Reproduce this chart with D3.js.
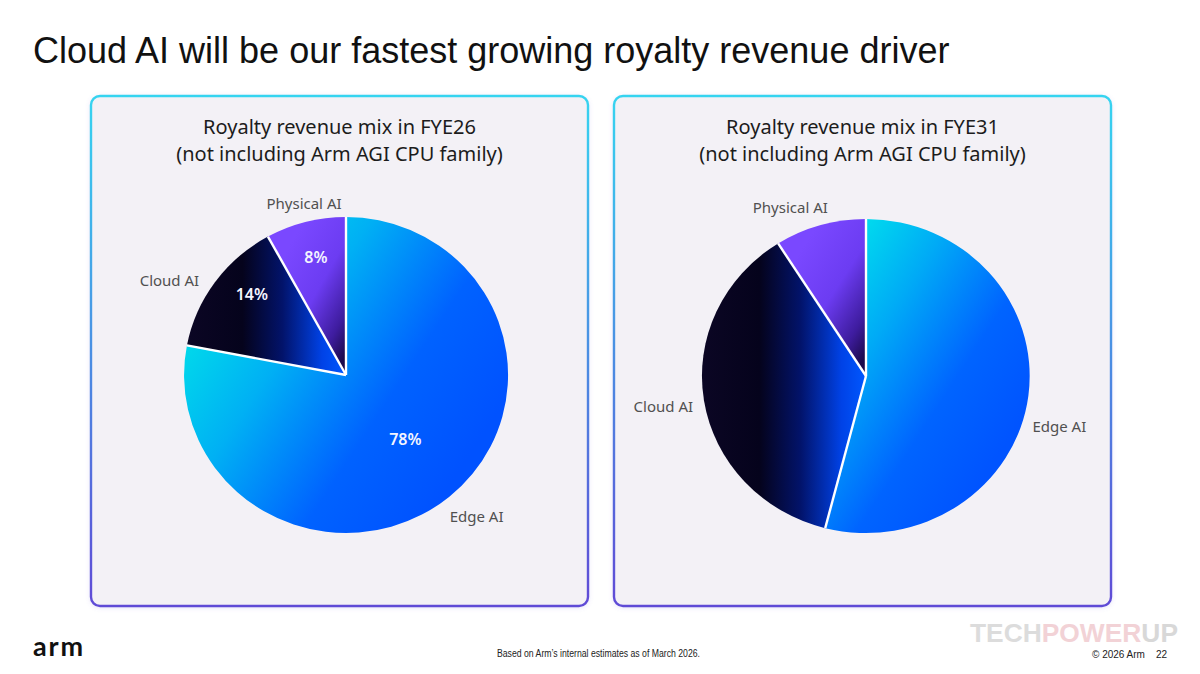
<!DOCTYPE html>
<html>
<head>
<meta charset="utf-8">
<script src="https://cdn.jsdelivr.net/npm/d3@7"></script>
<style>
  html, body { margin: 0; padding: 0; background: #ffffff; }
  svg { display: block; }
</style>
</head>
<body>
<div id="chart"></div>
<script>
// Chart data
const categories = ["Edge AI", "Cloud AI", "Physical AI"];
const fye26Values = [78, 14, 8];
const fye31Values = [54, 37, 9];
const fye26Labels = ["78%", "14%", "8%"];
const panelTitles = [
  ["Royalty revenue mix in FYE26", "(not including Arm AGI CPU family)"],
  ["Royalty revenue mix in FYE31", "(not including Arm AGI CPU family)"]
];
const slideTitle = "Cloud AI will be our fastest growing royalty revenue driver";
const footnote = "Based on Arm\u2019s internal estimates as of March 2026.";

const W = 1200, H = 674;
const svg = d3.select("#chart").append("svg")
  .attr("width", W).attr("height", H);

const defs = svg.append("defs");

// panel border gradient (cyan top -> purple bottom)
const bg = defs.append("linearGradient").attr("id", "panelBorder")
  .attr("x1", 0).attr("y1", 0).attr("x2", 0).attr("y2", 1);
bg.append("stop").attr("offset", 0).attr("stop-color", "#36d4f0");
bg.append("stop").attr("offset", 1).attr("stop-color", "#5f4bd6");

const shadow = defs.append("filter").attr("id", "soft")
  .attr("x", -0.05).attr("y", -0.05).attr("width", 1.1).attr("height", 1.1);
shadow.append("feDropShadow").attr("dx", 0).attr("dy", 1).attr("stdDeviation", 2)
  .attr("flood-color", "#7a6be0").attr("flood-opacity", 0.18);

// slice gradients, one set per pie
function gradient(id, x1, y1, x2, y2, stops) {
  const g = defs.append("linearGradient").attr("id", id)
    .attr("x1", x1).attr("y1", y1).attr("x2", x2).attr("y2", y2);
  stops.forEach(s => g.append("stop").attr("offset", s[0]).attr("stop-color", s[1]));
}
const cloudStops = [[0, "#0b0624"], [0.35, "#05031c"], [0.6, "#02136a"], [0.85, "#0042e6"], [1, "#0058ff"]];
const physStops = [[0, "#7a48ff"], [0.45, "#6c3cf2"], [0.8, "#3e1c9e"], [1, "#1c0a4c"]];
gradient("edge0", 0, 0.25, 0.85, 0.8, [[0, "#00e6e8"], [0.35, "#00b0f4"], [0.7, "#0062ff"], [1, "#0052ff"]]);
gradient("cloud0", 0, 0, 1, 0, cloudStops);
gradient("phys0", 0.2, 0.25, 0.85, 1, physStops);
gradient("edge1", 0.1, 0, 0.85, 0.75, [[0, "#00e6ec"], [0.35, "#00aaf6"], [0.7, "#0064ff"], [1, "#0054ff"]]);
gradient("cloud1", 0, 0, 1, 0, cloudStops);
gradient("phys1", 0.2, 0.25, 0.85, 1, physStops);

// Slide title
svg.append("text")
  .attr("x", 33).attr("y", 63)
  .attr("font-family", "Liberation Sans, Arial, sans-serif")
  .attr("font-size", 36)
  .attr("fill", "#111")
  .text(slideTitle);

// panels
const panels = [
  { x: 91, y: 96, w: 497, h: 510, cx: 346, cy: 375, rx: 162, ry: 158,
    values: fye26Values, pct: fye26Labels, gid: 0,
    labelPos: { "Physical AI": [-13.8, 176], "Cloud AI": [-62, 200], "Edge AI": [137.4, 193] },
    pctPos: [[137, 87], [-49.4, 124], [-14.3, 122]] },
  { x: 614, y: 96, w: 497, h: 510, cx: 866, cy: 376, rx: 164, ry: 157,
    values: fye31Values, pct: null, gid: 1,
    labelPos: { "Physical AI": [-24.3, 184], "Cloud AI": [-98.7, 205], "Edge AI": [104.8, 200] },
    pctPos: null }
];

const pie = d3.pie().sort(null).value(d => d);
const arc = d3.arc().innerRadius(0).outerRadius(1);
const gradIds = ["edge", "cloud", "phys"];

function polar(cx, cy, deg, r) {
  const a = deg * Math.PI / 180;
  return [cx + r * Math.sin(a), cy - r * Math.cos(a)];
}

panels.forEach((p, i) => {
  svg.append("rect")
    .attr("x", p.x).attr("y", p.y).attr("width", p.w).attr("height", p.h)
    .attr("rx", 9).attr("ry", 9)
    .attr("fill", "#f3f1f6")
    .attr("stroke", "url(#panelBorder)")
    .attr("stroke-width", 2.4)
    .attr("filter", "url(#soft)");

  const midX = p.x + p.w / 2;
  svg.append("text")
    .attr("x", midX).attr("y", 134)
    .attr("text-anchor", "middle")
    .attr("font-family", "Noto Sans, sans-serif")
    .attr("font-size", 20)
    .attr("fill", "#1c1c1c")
    .text(panelTitles[i][0]);
  svg.append("text")
    .attr("x", midX).attr("y", 161)
    .attr("text-anchor", "middle")
    .attr("font-family", "Noto Sans, sans-serif")
    .attr("font-size", 20)
    .attr("fill", "#1c1c1c")
    .text(panelTitles[i][1]);

  // pie (unit radius, scaled to the slightly oval shape of the slide)
  const g = svg.append("g")
    .attr("transform", `translate(${p.cx},${p.cy}) scale(${p.rx},${p.ry})`);
  const arcs = pie(p.values);
  g.selectAll("path.slice")
    .data(arcs)
    .join("path")
    .attr("class", "slice")
    .attr("d", arc)
    .attr("fill", (d, j) => `url(#${gradIds[j]}${p.gid})`);
  // white separators between slices
  g.selectAll("line.sep")
    .data(arcs)
    .join("line")
    .attr("class", "sep")
    .attr("x1", 0).attr("y1", 0)
    .attr("x2", d => Math.sin(d.startAngle))
    .attr("y2", d => -Math.cos(d.startAngle))
    .attr("stroke", "#ffffff")
    .attr("stroke-width", 2.4)
    .attr("vector-effect", "non-scaling-stroke");

  // category labels
  categories.forEach(c => {
    const lp = p.labelPos[c];
    const [lx, ly] = polar(p.cx, p.cy, lp[0], lp[1]);
    svg.append("text")
      .attr("x", lx).attr("y", ly + 5)
      .attr("text-anchor", "middle")
      .attr("font-family", "Noto Sans, sans-serif")
      .attr("font-size", 15)
      .attr("fill", "#505050")
      .text(c);
  });

  // percent labels
  if (p.pct) {
    p.pct.forEach((t, j) => {
      const [lx, ly] = polar(p.cx, p.cy, p.pctPos[j][0], p.pctPos[j][1]);
      svg.append("text")
        .attr("x", lx).attr("y", ly + 6)
        .attr("text-anchor", "middle")
        .attr("font-family", "Noto Sans, sans-serif")
        .attr("font-size", 16)
        .attr("font-weight", 600)
        .attr("fill", "#f4f4ff")
        .text(t);
    });
  }
});

// footer
svg.append("text")
  .attr("x", 33).attr("y", 656)
  .attr("font-family", "Lato, sans-serif")
  .attr("font-weight", 700)
  .attr("font-size", 27)
  .attr("fill", "#111")
  .attr("textLength", 50)
  .text("arm");

svg.append("text")
  .attr("x", 497).attr("y", 656.5)
  .attr("font-family", "Liberation Sans, Arial, sans-serif")
  .attr("font-size", 10)
  .attr("fill", "#222")
  .attr("textLength", 203)
  .attr("lengthAdjust", "spacingAndGlyphs")
  .text(footnote);

// watermark
const wm = svg.append("text")
  .attr("x", 970).attr("y", 642)
  .attr("font-family", "Liberation Sans, Arial, sans-serif")
  .attr("font-weight", 700)
  .attr("font-size", 26)
  .attr("textLength", 208)
  .attr("lengthAdjust", "spacingAndGlyphs");
wm.append("tspan").attr("fill", "#dcdcdc").text("TECH");
wm.append("tspan").attr("fill", "#f2d2d6").text("POWER");
wm.append("tspan").attr("fill", "#d8d8d8").text("UP");

svg.append("text")
  .attr("x", 1092).attr("y", 658)
  .attr("font-family", "Liberation Sans, Arial, sans-serif")
  .attr("font-size", 10)
  .attr("fill", "#222")
  .text("\u00a9 2026 Arm");
svg.append("text")
  .attr("x", 1156).attr("y", 658)
  .attr("font-family", "Liberation Sans, Arial, sans-serif")
  .attr("font-size", 10)
  .attr("fill", "#222")
  .text("22");
</script>
</body>
</html>
